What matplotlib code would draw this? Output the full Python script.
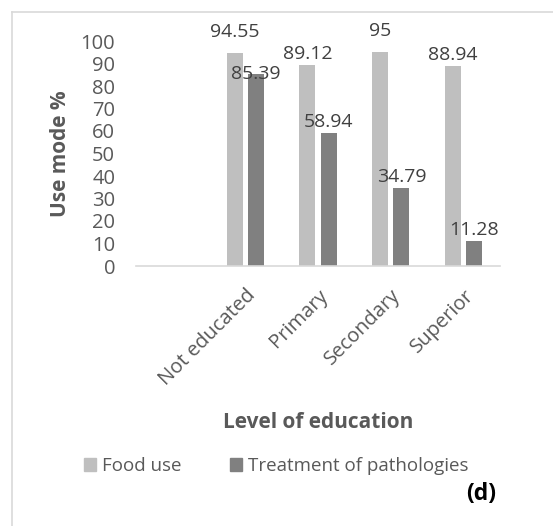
import matplotlib.pyplot as plt
from matplotlib.lines import Line2D
from matplotlib.patches import Patch
import numpy as np

# dados
categorias = ['Not educated', 'Primary', 'Secondary', 'Superior']
food_use = [94.55, 89.12, 95, 88.94]
tratamento = [85.39, 58.94, 34.79, 11.28]
y_ticks = list(range(0, 101, 10))

cor_food = '#BFBFBF'
cor_trat = '#808080'
cor_texto = '#595959'

plt.rcParams['font.family'] = ['Open Sans', 'DejaVu Sans']
fs = 13.5

fig = plt.figure(figsize=(5.53, 5.26), dpi=100)
ax = fig.add_axes([136 / 553, 1 - 266 / 526, 364 / 553, 225 / 526])

x = np.arange(len(categorias))
larg = 0.22
b1 = ax.bar(x - 0.145, food_use, larg, color=cor_food)
b2 = ax.bar(x + 0.145, tratamento, larg, color=cor_trat)

# deslocamento dos rótulos (pontos)
desloc = {94.55: 15, 95: 15, 85.39: 0}
for barras in (b1, b2):
    for r in barras:
        h = r.get_height()
        ax.annotate(f'{h:g}', (r.get_x() + r.get_width() / 2, h),
                    xytext=(0, desloc.get(h, 8)), textcoords='offset points',
                    ha='center', va='center', fontsize=14, color='#404040')

ax.set_xlim(-1.5, len(categorias) - 0.5)
ax.set_ylim(0, 100)
ax.set_yticks(y_ticks)
ax.set_xticks(x)
ax.set_xticklabels(categorias, rotation=45, ha='right', rotation_mode='anchor',
                   fontsize=14.5, color=cor_texto)
ax.tick_params(axis='y', length=0, pad=15, labelsize=14.5, labelcolor=cor_texto)
ax.tick_params(axis='x', length=0, pad=14)
for lado in ('top', 'right', 'left'):
    ax.spines[lado].set_visible(False)
ax.spines['bottom'].set_color('#D9D9D9')
ax.spines['bottom'].set_linewidth(1.2)

fig.text(60 / 553, 1 - 154 / 526, 'Use mode %', rotation=90, ha='center', va='center',
         fontsize=15, fontweight='bold', color=cor_texto)
fig.text(318 / 553, 1 - 422 / 526, 'Level of education', ha='center', va='center',
         fontsize=15, fontweight='bold', color=cor_texto)
fig.text(481 / 553, 1 - 494 / 526, '(d)', ha='center', va='center',
         fontsize=16.5, fontweight='bold', color='black')

handles = [Patch(color=cor_food, label='Food use'),
           Patch(color=cor_trat, label='Treatment of pathologies')]
leg = fig.legend(handles=handles, loc='center', bbox_to_anchor=(276 / 553, 1 - 466 / 526),
                 ncol=2, frameon=False, fontsize=fs, handlelength=0.65, handleheight=0.65,
                 handletextpad=0.3, columnspacing=2.6)
for t in leg.get_texts():
    t.set_color(cor_texto)

# moldura cinza
fig.add_artist(Line2D([12 / 553, 1], [1 - 12 / 526] * 2, color='#D9D9D9', lw=1.2))
fig.add_artist(Line2D([12 / 553] * 2, [0, 1 - 12 / 526], color='#D9D9D9', lw=1.2))

fig.savefig('out.png', dpi=100)
